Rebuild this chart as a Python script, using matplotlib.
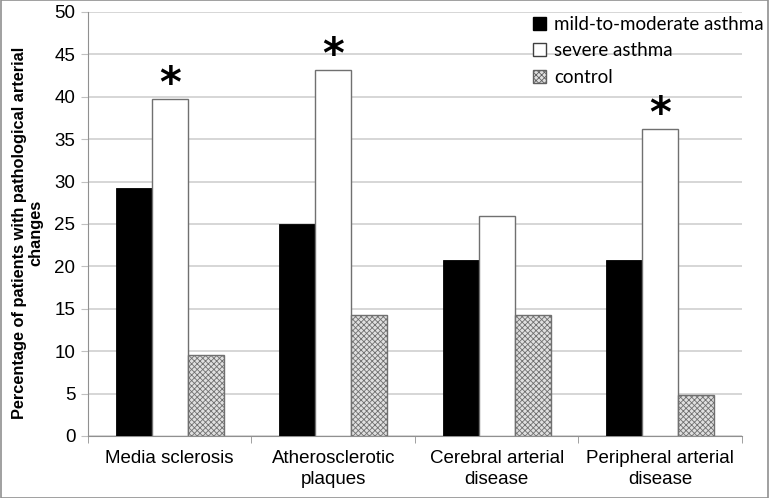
import numpy as np
import matplotlib.pyplot as plt
from matplotlib.patches import Rectangle

# Dados ###############################################################################
categorias = ["Media sclerosis", "Atherosclerotic\nplaques", "Cerebral arterial\ndisease", "Peripheral arterial\ndisease"]
leve_moderada = [29.2, 25.0, 20.8, 20.8]
grave = [39.7, 43.1, 25.9, 36.2]
controle = [9.5, 14.3, 14.3, 4.8]
significativo = [True, True, False, True]
series_nomes = ["mild-to-moderate asthma", "severe asthma", "control"]

# Figura ###############################################################################
plt.rcParams['font.family'] = ['Liberation Sans', 'DejaVu Sans']
plt.rcParams['hatch.linewidth'] = 0.6

fig = plt.figure(figsize=(7.69, 4.98), dpi=100)
ax = fig.add_axes([0.1144, 0.1245, 0.8505, 0.8515])

x = np.arange(len(categorias))
w = 0.22

ax.bar(x - w, leve_moderada, w, color="black", edgecolor="black", linewidth=0.6, zorder=3)
ax.bar(x, grave, w, color="white", edgecolor="#707070", linewidth=1.0, zorder=3)
ax.bar(x + w, controle, w, color="#e0e0e0", edgecolor="#707070", linewidth=1.0,
       hatch="xxxxxx", zorder=3)

# asteriscos
for i, s in enumerate(significativo):
    if s:
        ax.text(x[i], grave[i] + 1.7, "*", ha="center", va="center", fontsize=30,
                fontweight="bold", color="black", family="DejaVu Sans")

ax.set_xlim(-0.5, len(categorias) - 0.5)
ax.set_ylim(0, 50)
ax.set_yticks(range(0, 51, 5))
ax.yaxis.grid(True, color="#cfcfcf", linewidth=1.2, zorder=0)
ax.set_axisbelow(True)

ax.set_xticks(x)
ax.set_xticklabels(categorias, fontsize=13.5, linespacing=1.3)
ax.set_xticks(np.arange(-0.5, len(categorias), 1.0), minor=True)
ax.tick_params(axis="x", which="major", length=0, pad=10)
ax.tick_params(axis="x", which="minor", length=5, color="#909090", direction="out")
ax.tick_params(axis="y", labelsize=13.5, length=5, color="#c0c0c0", pad=4)

for s in ["top", "right"]:
    ax.spines[s].set_visible(False)
ax.spines["left"].set_color("#909090")
ax.spines["bottom"].set_color("#909090")

ax.set_ylabel("Percentage of patients with pathological arterial\nchanges", fontsize=11.8,
              fontweight="bold", linespacing=1.1)
ax.yaxis.set_label_coords(-0.068, 0.48)

# Legenda ###############################################################################
h1 = Rectangle((0, 0), 1, 1, facecolor="black", edgecolor="black")
h2 = Rectangle((0, 0), 1, 1, facecolor="white", edgecolor="#404040")
h3 = Rectangle((0, 0), 1, 1, facecolor="#e0e0e0", edgecolor="#606060", hatch="xxxxxx")
ax.legend([h1, h2, h3], series_nomes, loc="upper left", bbox_to_anchor=(0.655, 1.03),
          frameon=False, handlelength=0.7, handleheight=0.7,
          handletextpad=0.4, labelspacing=0.5, prop={"family": ["Lato", "DejaVu Sans"], "size": 13.5})

# Borda da figura
fig.patches.append(Rectangle((0.001, 0.001), 0.998, 0.998, transform=fig.transFigure,
                             fill=False, edgecolor="#909090", linewidth=1.2))

fig.savefig("out.png", dpi=100)
